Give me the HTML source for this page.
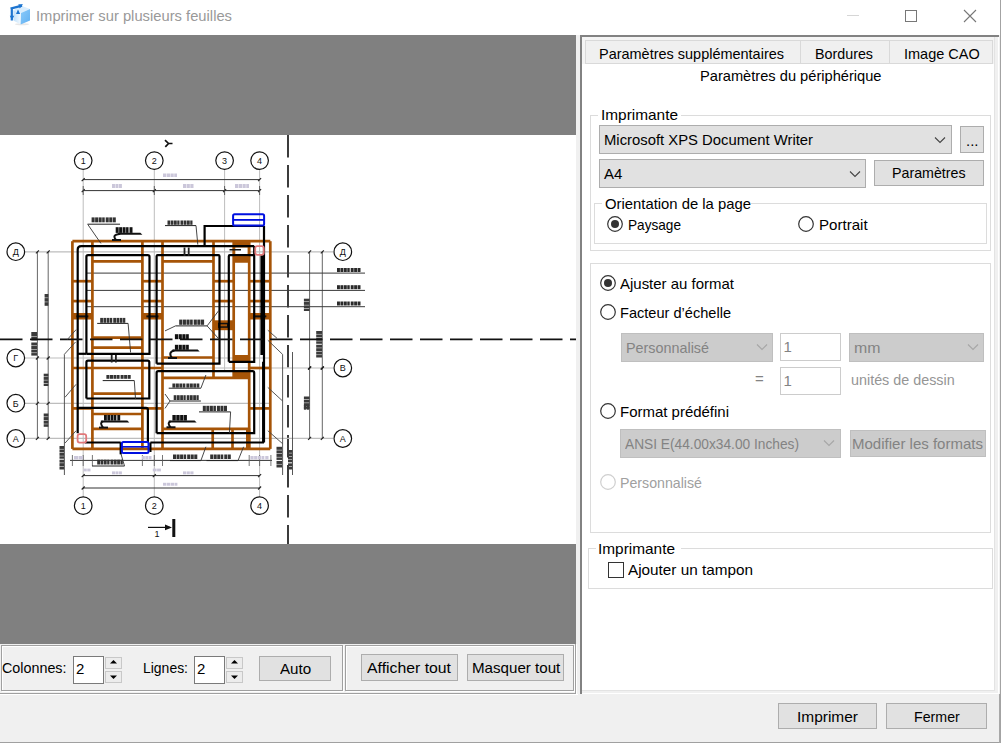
<!DOCTYPE html><html><head><meta charset="utf-8"><style>
html,body{margin:0;padding:0;}
body{width:1001px;height:743px;position:relative;overflow:hidden;background:#f0f0f0;font-family:"Liberation Sans",sans-serif;font-size:15px;}
.r{position:absolute;box-sizing:border-box;}
.t{position:absolute;white-space:pre;line-height:17px;font-size:15px;}
.fit{transform-origin:0 0;}
</style></head><body>
<div class="r" style="left:0px;top:0px;width:1001px;height:35px;background:#fff;"></div>
<div class="t fit" style="left:36px;top:7.3px;color:#999;transform:scaleX(0.9838);">Imprimer sur plusieurs feuilles</div>
<div class="r" style="left:847px;top:15px;width:12px;height:1px;background:#d6d6d6;"></div>
<div class="r" style="left:905px;top:10px;width:12px;height:12px;box-shadow:inset 0 0 0 1px #777;"></div>
<svg class="r" style="left:963px;top:9px" width="15" height="15"><path d="M1,1 L13,13 M13,1 L1,13" stroke="#777" stroke-width="1.1" fill="none"/></svg>
<svg class="r" style="left:0;top:0" width="36" height="30" viewBox="0 0 36 30">
<defs><linearGradient id="rf" x1="0" y1="0" x2="1" y2="1"><stop offset="0" stop-color="#8ccbfa"/><stop offset="1" stop-color="#5fb0f2"/></linearGradient>
<linearGradient id="lf" x1="0" y1="0" x2="1" y2="0"><stop offset="0" stop-color="#bfe0fb"/><stop offset="1" stop-color="#f4faff"/></linearGradient></defs>
<ellipse cx="22" cy="24.2" rx="7" ry="1" fill="#bbb" opacity="0.35"/>
<polygon points="13.4,10.2 20.7,5.6 30,9 21,13" fill="#d9edfd"/>
<polygon points="13.4,10.2 21,13 20.6,24.4 13.4,20.6" fill="url(#lf)"/>
<polygon points="21,13 30,9 30,20.4 20.6,24.4" fill="url(#rf)"/>
<path d="M10.5,8.6 L22,5.6 M11.8,8.6 L11.8,20.5" stroke="#1c74d0" stroke-width="2.2" fill="none"/>
<polygon points="18.3,4.2 23,4.2 19.8,8.6" fill="#1c74d0"/>
<polygon points="16,14 20.2,14 18,9.4" fill="#1c74d0"/>
<polygon points="9.8,15.8 14.2,15.8 12,20" fill="#1c74d0"/>
</svg>
<div class="r" style="left:0px;top:35px;width:576px;height:100px;background:#808080;"></div>
<div class="r" style="left:0px;top:135px;width:576px;height:409px;background:#fff;"></div>
<div class="r" style="left:0px;top:544px;width:576px;height:100px;background:#808080;"></div>
<svg class="r" style="left:0;top:135px" width="576" height="409" viewBox="0 135 576 409">
<line x1="288" y1="135" x2="288" y2="544" stroke="#1a1a1a" stroke-width="1.7" stroke-dasharray="22.5 7.5"/>
<line x1="83.2" y1="170" x2="83.2" y2="497" stroke="#bdbdbd" stroke-width="1"/>
<line x1="154.3" y1="170" x2="154.3" y2="497" stroke="#bdbdbd" stroke-width="1"/>
<line x1="224.6" y1="170" x2="224.6" y2="371" stroke="#bdbdbd" stroke-width="1"/>
<line x1="259.6" y1="170" x2="259.6" y2="497" stroke="#bdbdbd" stroke-width="1"/>
<line x1="25" y1="251.8" x2="333" y2="251.8" stroke="#bdbdbd" stroke-width="1.3"/>
<line x1="25" y1="358" x2="270" y2="358" stroke="#bdbdbd" stroke-width="1.1"/>
<line x1="72" y1="368" x2="333" y2="368" stroke="#bdbdbd" stroke-width="1.1"/>
<line x1="25" y1="403.4" x2="270" y2="403.4" stroke="#bdbdbd" stroke-width="1.1"/>
<line x1="25" y1="438.4" x2="333" y2="438.4" stroke="#bdbdbd" stroke-width="1.3"/>
<line x1="83" y1="179.6" x2="259.6" y2="179.6" stroke="#333" stroke-width="1"/>
<line x1="83" y1="190.6" x2="259.6" y2="190.6" stroke="#333" stroke-width="1"/>
<line x1="83" y1="475.6" x2="259.6" y2="475.6" stroke="#333" stroke-width="1"/>
<line x1="83" y1="488" x2="259.6" y2="488" stroke="#333" stroke-width="1"/>
<path d="M81.7,192.1 L84.7,189.1" fill="none" stroke="#222" stroke-width="1.2"/>
<line x1="83.2" y1="186" x2="83.2" y2="195" stroke="#444" stroke-width="0.8"/>
<path d="M152.8,192.1 L155.8,189.1" fill="none" stroke="#222" stroke-width="1.2"/>
<line x1="154.3" y1="186" x2="154.3" y2="195" stroke="#444" stroke-width="0.8"/>
<path d="M223.1,192.1 L226.1,189.1" fill="none" stroke="#222" stroke-width="1.2"/>
<line x1="224.6" y1="186" x2="224.6" y2="195" stroke="#444" stroke-width="0.8"/>
<path d="M258.1,192.1 L261.1,189.1" fill="none" stroke="#222" stroke-width="1.2"/>
<line x1="259.6" y1="186" x2="259.6" y2="195" stroke="#444" stroke-width="0.8"/>
<path d="M81.7,181.1 L84.7,178.1" fill="none" stroke="#222" stroke-width="1.2"/>
<path d="M81.7,477.1 L84.7,474.1" fill="none" stroke="#222" stroke-width="1.2"/>
<path d="M81.7,489.5 L84.7,486.5" fill="none" stroke="#222" stroke-width="1.2"/>
<path d="M258.1,181.1 L261.1,178.1" fill="none" stroke="#222" stroke-width="1.2"/>
<path d="M258.1,477.1 L261.1,474.1" fill="none" stroke="#222" stroke-width="1.2"/>
<path d="M258.1,489.5 L261.1,486.5" fill="none" stroke="#222" stroke-width="1.2"/>
<path d="M152.8,477.1 L155.8,474.1" fill="none" stroke="#222" stroke-width="1.2"/>
<line x1="70" y1="460.4" x2="272" y2="460.4" stroke="#333" stroke-width="1"/>
<line x1="72.4" y1="455" x2="72.4" y2="466" stroke="#555" stroke-width="0.8"/>
<line x1="83.2" y1="455" x2="83.2" y2="466" stroke="#555" stroke-width="0.8"/>
<line x1="92.4" y1="455" x2="92.4" y2="466" stroke="#555" stroke-width="0.8"/>
<line x1="142.4" y1="455" x2="142.4" y2="466" stroke="#555" stroke-width="0.8"/>
<line x1="154.3" y1="455" x2="154.3" y2="466" stroke="#555" stroke-width="0.8"/>
<line x1="162.5" y1="455" x2="162.5" y2="466" stroke="#555" stroke-width="0.8"/>
<line x1="249.2" y1="455" x2="249.2" y2="466" stroke="#555" stroke-width="0.8"/>
<line x1="259.6" y1="455" x2="259.6" y2="466" stroke="#555" stroke-width="0.8"/>
<line x1="270.9" y1="455" x2="270.9" y2="466" stroke="#555" stroke-width="0.8"/>
<line x1="37.4" y1="251.7" x2="37.4" y2="438.4" stroke="#666" stroke-width="1"/>
<path d="M35.9,253.3 L38.9,250.3" fill="none" stroke="#222" stroke-width="1.2"/>
<path d="M35.9,359.5 L38.9,356.5" fill="none" stroke="#222" stroke-width="1.2"/>
<path d="M35.9,404.9 L38.9,401.9" fill="none" stroke="#222" stroke-width="1.2"/>
<path d="M35.9,439.9 L38.9,436.9" fill="none" stroke="#222" stroke-width="1.2"/>
<line x1="48.2" y1="251.7" x2="48.2" y2="438.4" stroke="#666" stroke-width="1"/>
<path d="M46.7,253.3 L49.7,250.3" fill="none" stroke="#222" stroke-width="1.2"/>
<path d="M46.7,359.5 L49.7,356.5" fill="none" stroke="#222" stroke-width="1.2"/>
<path d="M46.7,404.9 L49.7,401.9" fill="none" stroke="#222" stroke-width="1.2"/>
<path d="M46.7,439.9 L49.7,436.9" fill="none" stroke="#222" stroke-width="1.2"/>
<line x1="309.6" y1="251.7" x2="309.6" y2="438.4" stroke="#666" stroke-width="1"/>
<path d="M308.1,253.3 L311.1,250.3" fill="none" stroke="#222" stroke-width="1.2"/>
<path d="M308.1,369.5 L311.1,366.5" fill="none" stroke="#222" stroke-width="1.2"/>
<path d="M308.1,369.5 L311.1,366.5" fill="none" stroke="#222" stroke-width="1.2"/>
<path d="M308.1,439.9 L311.1,436.9" fill="none" stroke="#222" stroke-width="1.2"/>
<line x1="322.3" y1="251.7" x2="322.3" y2="438.4" stroke="#666" stroke-width="1"/>
<path d="M320.8,253.3 L323.8,250.3" fill="none" stroke="#222" stroke-width="1.2"/>
<path d="M320.8,369.5 L323.8,366.5" fill="none" stroke="#222" stroke-width="1.2"/>
<path d="M320.8,369.5 L323.8,366.5" fill="none" stroke="#222" stroke-width="1.2"/>
<path d="M320.8,439.9 L323.8,436.9" fill="none" stroke="#222" stroke-width="1.2"/>
<rect x="163.0" y="173.5" width="3.25" height="3.50" fill="#cbc7da"/>
<rect x="166.75" y="173.5" width="3.25" height="3.50" fill="#cbc7da"/>
<rect x="170.5" y="173.5" width="3.25" height="3.50" fill="#cbc7da"/>
<rect x="174.25" y="173.5" width="2.75" height="3.50" fill="#cbc7da"/>
<rect x="112.0" y="184" width="2.97" height="4.00" fill="#cbc7da"/>
<rect x="115.46666666666667" y="184" width="2.97" height="4.00" fill="#cbc7da"/>
<rect x="118.93333333333334" y="184" width="2.97" height="4.00" fill="#cbc7da"/>
<rect x="183.0" y="184" width="3.17" height="4.00" fill="#cbc7da"/>
<rect x="186.66666666666666" y="184" width="3.17" height="4.00" fill="#cbc7da"/>
<rect x="190.33333333333334" y="184" width="3.17" height="4.00" fill="#cbc7da"/>
<rect x="235.0" y="184" width="3.25" height="4.00" fill="#cbc7da"/>
<rect x="238.75" y="184" width="3.25" height="4.00" fill="#cbc7da"/>
<rect x="242.5" y="184" width="3.25" height="4.00" fill="#cbc7da"/>
<rect x="246.25" y="184" width="2.75" height="4.00" fill="#cbc7da"/>
<rect x="112.0" y="471.4" width="2.97" height="2.90" fill="#cbc7da"/>
<rect x="115.46666666666667" y="471.4" width="2.97" height="2.90" fill="#cbc7da"/>
<rect x="118.93333333333334" y="471.4" width="2.97" height="2.90" fill="#cbc7da"/>
<rect x="183.0" y="471.4" width="3.17" height="2.90" fill="#cbc7da"/>
<rect x="186.66666666666666" y="471.4" width="3.17" height="2.90" fill="#cbc7da"/>
<rect x="190.33333333333334" y="471.4" width="3.17" height="2.90" fill="#cbc7da"/>
<rect x="163.0" y="482.8" width="3.35" height="2.90" fill="#cbc7da"/>
<rect x="166.85" y="482.8" width="3.35" height="2.90" fill="#cbc7da"/>
<rect x="170.7" y="482.8" width="3.35" height="2.90" fill="#cbc7da"/>
<rect x="174.55" y="482.8" width="2.85" height="2.90" fill="#cbc7da"/>
<rect x="83.5" y="468.6" width="3.25" height="2.80" fill="#cbc7da"/>
<rect x="87.25" y="468.6" width="3.25" height="2.80" fill="#cbc7da"/>
<rect x="152.8" y="468.6" width="3.80" height="2.80" fill="#cbc7da"/>
<rect x="157.10000000000002" y="468.6" width="3.80" height="2.80" fill="#cbc7da"/>
<rect x="74.0" y="456" width="4.25" height="3.50" fill="#cbc7da"/>
<rect x="78.75" y="456" width="4.25" height="3.50" fill="#cbc7da"/>
<rect x="250.4" y="456" width="3.22" height="3.50" fill="#cbc7da"/>
<rect x="254.12" y="456" width="3.22" height="3.50" fill="#cbc7da"/>
<rect x="257.84000000000003" y="456" width="3.22" height="3.50" fill="#cbc7da"/>
<rect x="261.56" y="456" width="2.72" height="3.50" fill="#cbc7da"/>
<rect x="265.28" y="456" width="3.22" height="3.50" fill="#cbc7da"/>
<rect x="142.0" y="456" width="2.83" height="3.50" fill="#cbc7da"/>
<rect x="145.33333333333334" y="456" width="2.83" height="3.50" fill="#cbc7da"/>
<rect x="148.66666666666666" y="456" width="2.83" height="3.50" fill="#cbc7da"/>
<rect x="44.6" y="294.0" width="3.80" height="3.60" fill="#3a3a3a"/>
<rect x="44.6" y="298.1" width="3.80" height="3.60" fill="#3a3a3a"/>
<rect x="44.6" y="302.2" width="3.80" height="3.60" fill="#3a3a3a"/>
<rect x="31.3" y="332.0" width="5.70" height="4.00" fill="#3a3a3a"/>
<rect x="31.3" y="336.5" width="5.70" height="4.00" fill="#3a3a3a"/>
<rect x="31.3" y="342.5" width="5.70" height="3.02" fill="#3a3a3a"/>
<rect x="31.3" y="346.025" width="5.70" height="3.03" fill="#3a3a3a"/>
<rect x="31.3" y="349.55" width="5.70" height="3.03" fill="#3a3a3a"/>
<rect x="31.3" y="353.07500000000005" width="5.70" height="2.52" fill="#3a3a3a"/>
<rect x="43.7" y="373.7" width="4.70" height="2.82" fill="#3a3a3a"/>
<rect x="43.7" y="377.025" width="4.70" height="2.83" fill="#3a3a3a"/>
<rect x="43.7" y="380.35" width="4.70" height="2.82" fill="#3a3a3a"/>
<rect x="43.7" y="383.675" width="4.70" height="2.32" fill="#3a3a3a"/>
<rect x="43.7" y="413.5" width="4.70" height="3.07" fill="#3a3a3a"/>
<rect x="43.7" y="417.075" width="4.70" height="3.07" fill="#3a3a3a"/>
<rect x="43.7" y="420.65" width="4.70" height="3.08" fill="#3a3a3a"/>
<rect x="43.7" y="424.225" width="4.70" height="2.57" fill="#3a3a3a"/>
<rect x="303.9" y="298.7" width="5.70" height="2.82" fill="#3a3a3a"/>
<rect x="303.9" y="302.025" width="5.70" height="2.83" fill="#3a3a3a"/>
<rect x="303.9" y="305.35" width="5.70" height="2.82" fill="#3a3a3a"/>
<rect x="303.9" y="308.675" width="5.70" height="2.32" fill="#3a3a3a"/>
<rect x="316.2" y="331.0" width="5.80" height="2.94" fill="#3a3a3a"/>
<rect x="316.2" y="334.4375" width="5.80" height="2.94" fill="#3a3a3a"/>
<rect x="316.2" y="337.875" width="5.80" height="2.94" fill="#3a3a3a"/>
<rect x="316.2" y="341.3125" width="5.80" height="2.44" fill="#3a3a3a"/>
<rect x="316.2" y="344.75" width="5.80" height="2.94" fill="#3a3a3a"/>
<rect x="316.2" y="348.1875" width="5.80" height="2.94" fill="#3a3a3a"/>
<rect x="316.2" y="351.625" width="5.80" height="2.94" fill="#3a3a3a"/>
<rect x="316.2" y="355.0625" width="5.80" height="2.44" fill="#3a3a3a"/>
<rect x="303.9" y="396.5" width="5.70" height="2.82" fill="#3a3a3a"/>
<rect x="303.9" y="399.825" width="5.70" height="2.82" fill="#3a3a3a"/>
<rect x="303.9" y="403.15" width="5.70" height="2.83" fill="#3a3a3a"/>
<rect x="303.9" y="406.475" width="5.70" height="2.32" fill="#3a3a3a"/>
<rect x="303.9" y="405" width="2.35" height="4.70" fill="#3a3a3a"/>
<rect x="306.75" y="405" width="2.35" height="4.70" fill="#3a3a3a"/>
<circle cx="83.2" cy="160.6" r="8.8" fill="#fff" stroke="#111" stroke-width="1.2"/>
<text x="83.2" y="163.9" font-size="9" text-anchor="middle" font-family="Liberation Sans" fill="#111">1</text>
<circle cx="154.3" cy="160.6" r="8.8" fill="#fff" stroke="#111" stroke-width="1.2"/>
<text x="154.3" y="163.9" font-size="9" text-anchor="middle" font-family="Liberation Sans" fill="#111">2</text>
<circle cx="224.6" cy="160.6" r="8.8" fill="#fff" stroke="#111" stroke-width="1.2"/>
<text x="224.6" y="163.9" font-size="9" text-anchor="middle" font-family="Liberation Sans" fill="#111">3</text>
<circle cx="259.6" cy="160.6" r="8.8" fill="#fff" stroke="#111" stroke-width="1.2"/>
<text x="259.6" y="163.9" font-size="9" text-anchor="middle" font-family="Liberation Sans" fill="#111">4</text>
<circle cx="83.2" cy="505.6" r="8.8" fill="#fff" stroke="#111" stroke-width="1.2"/>
<text x="83.2" y="508.90000000000003" font-size="9" text-anchor="middle" font-family="Liberation Sans" fill="#111">1</text>
<circle cx="154.3" cy="505.6" r="8.8" fill="#fff" stroke="#111" stroke-width="1.2"/>
<text x="154.3" y="508.90000000000003" font-size="9" text-anchor="middle" font-family="Liberation Sans" fill="#111">2</text>
<circle cx="259.6" cy="505.6" r="8.8" fill="#fff" stroke="#111" stroke-width="1.2"/>
<text x="259.6" y="508.90000000000003" font-size="9" text-anchor="middle" font-family="Liberation Sans" fill="#111">4</text>
<circle cx="15.8" cy="251.7" r="8.8" fill="#fff" stroke="#111" stroke-width="1.2"/>
<text x="15.8" y="255.0" font-size="9" text-anchor="middle" font-family="Liberation Sans" fill="#111">Д</text>
<circle cx="15.8" cy="358" r="8.8" fill="#fff" stroke="#111" stroke-width="1.2"/>
<text x="15.8" y="361.3" font-size="9" text-anchor="middle" font-family="Liberation Sans" fill="#111">Г</text>
<circle cx="15.8" cy="403.2" r="8.8" fill="#fff" stroke="#111" stroke-width="1.2"/>
<text x="15.8" y="406.5" font-size="9" text-anchor="middle" font-family="Liberation Sans" fill="#111">Б</text>
<circle cx="15.8" cy="438.5" r="8.8" fill="#fff" stroke="#111" stroke-width="1.2"/>
<text x="15.8" y="441.8" font-size="9" text-anchor="middle" font-family="Liberation Sans" fill="#111">А</text>
<circle cx="342.8" cy="251.7" r="8.8" fill="#fff" stroke="#111" stroke-width="1.2"/>
<text x="342.8" y="255.0" font-size="9" text-anchor="middle" font-family="Liberation Sans" fill="#111">Д</text>
<circle cx="342.8" cy="368" r="8.8" fill="#fff" stroke="#111" stroke-width="1.2"/>
<text x="342.8" y="371.3" font-size="9" text-anchor="middle" font-family="Liberation Sans" fill="#111">В</text>
<circle cx="342.8" cy="438.5" r="8.8" fill="#fff" stroke="#111" stroke-width="1.2"/>
<text x="342.8" y="441.8" font-size="9" text-anchor="middle" font-family="Liberation Sans" fill="#111">А</text>
<line x1="86.4" y1="273.1" x2="365" y2="273.1" stroke="#3a3a3a" stroke-width="1"/>
<line x1="86.4" y1="290.4" x2="365" y2="290.4" stroke="#3a3a3a" stroke-width="1"/>
<line x1="86.4" y1="306.7" x2="365" y2="306.7" stroke="#3a3a3a" stroke-width="1"/>
<rect x="337.0" y="268" width="2.93" height="4.00" fill="#2a2a2a"/>
<rect x="340.42857142857144" y="268" width="2.93" height="4.00" fill="#2a2a2a"/>
<rect x="343.85714285714283" y="268" width="2.93" height="4.00" fill="#2a2a2a"/>
<rect x="347.2857142857143" y="268" width="2.43" height="4.00" fill="#2a2a2a"/>
<rect x="350.7142857142857" y="268" width="2.93" height="4.00" fill="#2a2a2a"/>
<rect x="354.14285714285717" y="268" width="2.93" height="4.00" fill="#2a2a2a"/>
<rect x="357.57142857142856" y="268" width="2.93" height="4.00" fill="#2a2a2a"/>
<rect x="337.0" y="285.2" width="2.93" height="4.00" fill="#2a2a2a"/>
<rect x="340.42857142857144" y="285.2" width="2.93" height="4.00" fill="#2a2a2a"/>
<rect x="343.85714285714283" y="285.2" width="2.93" height="4.00" fill="#2a2a2a"/>
<rect x="347.2857142857143" y="285.2" width="2.43" height="4.00" fill="#2a2a2a"/>
<rect x="350.7142857142857" y="285.2" width="2.93" height="4.00" fill="#2a2a2a"/>
<rect x="354.14285714285717" y="285.2" width="2.93" height="4.00" fill="#2a2a2a"/>
<rect x="357.57142857142856" y="285.2" width="2.93" height="4.00" fill="#2a2a2a"/>
<rect x="337.0" y="301.5" width="2.93" height="4.00" fill="#2a2a2a"/>
<rect x="340.42857142857144" y="301.5" width="2.93" height="4.00" fill="#2a2a2a"/>
<rect x="343.85714285714283" y="301.5" width="2.93" height="4.00" fill="#2a2a2a"/>
<rect x="347.2857142857143" y="301.5" width="2.43" height="4.00" fill="#2a2a2a"/>
<rect x="350.7142857142857" y="301.5" width="2.93" height="4.00" fill="#2a2a2a"/>
<rect x="354.14285714285717" y="301.5" width="2.93" height="4.00" fill="#2a2a2a"/>
<rect x="357.57142857142856" y="301.5" width="2.93" height="4.00" fill="#2a2a2a"/>
<line x1="72.4" y1="241.2" x2="72.4" y2="448.9" stroke="#a65407" stroke-width="2.7"/>
<line x1="92.4" y1="241.2" x2="92.4" y2="448.9" stroke="#a65407" stroke-width="2.7"/>
<line x1="142.4" y1="241.2" x2="142.4" y2="448.9" stroke="#a65407" stroke-width="2.7"/>
<line x1="162.5" y1="241.2" x2="162.5" y2="448.9" stroke="#a65407" stroke-width="2.7"/>
<line x1="249.2" y1="241.2" x2="249.2" y2="448.9" stroke="#a65407" stroke-width="2.7"/>
<line x1="270.3" y1="241.2" x2="270.3" y2="448.9" stroke="#a65407" stroke-width="2.7"/>
<line x1="213.5" y1="241.2" x2="213.5" y2="378.5" stroke="#a65407" stroke-width="2.7"/>
<line x1="233.7" y1="241.2" x2="233.7" y2="378.5" stroke="#a65407" stroke-width="2.7"/>
<line x1="212.7" y1="428.9" x2="212.7" y2="448.9" stroke="#a65407" stroke-width="2.7"/>
<line x1="232.5" y1="428.9" x2="232.5" y2="448.9" stroke="#a65407" stroke-width="2.7"/>
<rect x="246" y="428.3" width="4.30" height="20.60" fill="#a65407"/>
<line x1="72.4" y1="241.2" x2="270.3" y2="241.2" stroke="#a65407" stroke-width="2.7"/>
<line x1="72.4" y1="448.9" x2="270.3" y2="448.9" stroke="#a65407" stroke-width="2.7"/>
<line x1="92.4" y1="261.3" x2="142.4" y2="261.3" stroke="#a65407" stroke-width="2.7"/>
<line x1="162.5" y1="261.3" x2="213.5" y2="261.3" stroke="#a65407" stroke-width="2.7"/>
<line x1="72.4" y1="281.2" x2="92.4" y2="281.2" stroke="#a65407" stroke-width="2.7"/>
<line x1="72.4" y1="301.1" x2="92.4" y2="301.1" stroke="#a65407" stroke-width="2.7"/>
<line x1="142.4" y1="281.2" x2="162.5" y2="281.2" stroke="#a65407" stroke-width="2.7"/>
<line x1="142.4" y1="301.1" x2="162.5" y2="301.1" stroke="#a65407" stroke-width="2.7"/>
<line x1="213.5" y1="281.2" x2="233.7" y2="281.2" stroke="#a65407" stroke-width="2.7"/>
<line x1="213.5" y1="301.1" x2="233.7" y2="301.1" stroke="#a65407" stroke-width="2.7"/>
<line x1="249.2" y1="281.2" x2="270.3" y2="281.2" stroke="#a65407" stroke-width="2.7"/>
<line x1="249.2" y1="301.1" x2="270.3" y2="301.1" stroke="#a65407" stroke-width="2.7"/>
<rect x="72.4" y="313" width="20.00" height="6.50" fill="#a65407"/>
<rect x="76.4" y="315.4" width="12.00" height="2.00" fill="#111"/>
<rect x="142.4" y="313" width="20.10" height="6.50" fill="#a65407"/>
<rect x="146.4" y="315.4" width="12.10" height="2.00" fill="#111"/>
<rect x="249.2" y="313" width="21.10" height="6.50" fill="#a65407"/>
<rect x="253.2" y="315.4" width="13.10" height="2.00" fill="#111"/>
<rect x="213.5" y="320.3" width="20.20" height="9.90" fill="#a65407"/>
<rect x="218" y="322.8" width="11.00" height="5.00" fill="#111"/>
<rect x="220" y="324.3" width="7.00" height="2.00" fill="#a65407"/>
<rect x="233.2" y="240.5" width="16.60" height="22.00" fill="#a65407"/>
<rect x="235.3" y="247.5" width="12.30" height="6.50" fill="#fff"/>
<rect x="229.5" y="249" width="11.50" height="1.50" fill="#111"/>
<line x1="92.4" y1="337.7" x2="142.4" y2="337.7" stroke="#a65407" stroke-width="2.7"/>
<line x1="92.4" y1="347.6" x2="142.4" y2="347.6" stroke="#a65407" stroke-width="2.7"/>
<line x1="162.5" y1="357.5" x2="213.5" y2="357.5" stroke="#a65407" stroke-width="2.7"/>
<line x1="72.4" y1="368" x2="162.5" y2="368" stroke="#a65407" stroke-width="2.7"/>
<line x1="249.2" y1="368" x2="270.3" y2="368" stroke="#a65407" stroke-width="2.7"/>
<line x1="162.5" y1="377.9" x2="249.2" y2="377.9" stroke="#a65407" stroke-width="2.7"/>
<rect x="234.3" y="355" width="13.70" height="8.00" fill="#a65407"/>
<rect x="234.3" y="371.7" width="13.70" height="6.80" fill="#a65407"/>
<line x1="92.4" y1="393.6" x2="142.4" y2="393.6" stroke="#a65407" stroke-width="2.7"/>
<line x1="72.4" y1="408.4" x2="92.4" y2="408.4" stroke="#a65407" stroke-width="2.7"/>
<line x1="142.4" y1="408.4" x2="162.5" y2="408.4" stroke="#a65407" stroke-width="2.7"/>
<line x1="249.2" y1="408.4" x2="270.3" y2="408.4" stroke="#a65407" stroke-width="2.7"/>
<line x1="92.4" y1="414" x2="142.4" y2="414" stroke="#a65407" stroke-width="2.7"/>
<line x1="92.4" y1="428.9" x2="142.4" y2="428.9" stroke="#a65407" stroke-width="2.7"/>
<line x1="162.5" y1="428.9" x2="248" y2="428.9" stroke="#a65407" stroke-width="2.7"/>
<path d="M77.7,433.2 L77.7,249.6 Q77.7,246.1 81.2,246.1 L254.2,246.1" fill="none" stroke="#000" stroke-width="2.2"/>
<line x1="84.8" y1="442.5" x2="120.7" y2="442.5" stroke="#000" stroke-width="2.2"/>
<line x1="120.7" y1="442.5" x2="120.7" y2="454.3" stroke="#000" stroke-width="2.2"/>
<line x1="150.4" y1="442.5" x2="264" y2="442.5" stroke="#000" stroke-width="2.2"/>
<line x1="150.4" y1="442.5" x2="150.4" y2="452" stroke="#000" stroke-width="2.2"/>
<line x1="264" y1="226" x2="264" y2="442.5" stroke="#000" stroke-width="2.2"/>
<rect x="260.4" y="255.2" width="4.40" height="99.80" fill="#000"/>
<path d="M204.6,245.2 L204.6,226 L264,226" fill="none" stroke="#000" stroke-width="2.2"/>
<path d="M86.4,353.8 L86.4,256.8 Q86.4,255.2 88.0,255.2 L147.9,255.2 Q149.5,255.2 149.5,256.8 L149.5,353.8 L86.4,353.8" fill="none" stroke="#000" stroke-width="2.2"/>
<line x1="77.7" y1="353.8" x2="86.4" y2="353.8" stroke="#000" stroke-width="2.2"/>
<path d="M156.6,363.7 L156.6,256.2 Q156.6,255.2 157.6,255.2 L218.5,255.2 Q219.5,255.2 219.5,256.2 L219.5,363.7 L156.6,363.7" fill="none" stroke="#000" stroke-width="2.2"/>
<path d="M228.8,361.8 L228.8,256.2 Q228.8,255.2 229.8,255.2 L254.2,255.2 M254.2,246 L254.2,361.8 L228.8,361.8" fill="none" stroke="#000" stroke-width="2.2"/>
<path d="M86.4,398.5 L86.4,362.20000000000005 Q86.4,360.6 88.0,360.6 L147.70000000000002,360.6 Q149.3,360.6 149.3,362.20000000000005 L149.3,398.5 L86.4,398.5" fill="none" stroke="#000" stroke-width="2.2"/>
<path d="M77.7,407.8 L146,407.8 Q147.9,407.8 147.9,409.7 L147.9,442.5" fill="none" stroke="#000" stroke-width="2.2"/>
<path d="M156.6,433.2 L156.6,372.70000000000005 Q156.6,371.1 158.2,371.1 L252.6,371.1 Q254.2,371.1 254.2,372.70000000000005 L254.2,433.2 L156.6,433.2" fill="none" stroke="#000" stroke-width="2.2"/>
<line x1="262.8" y1="361.8" x2="262.8" y2="442.5" stroke="#000" stroke-width="1.5"/>
<rect x="234.5" y="256.5" width="14.00" height="6.00" fill="#a65407"/>
<rect x="233.1" y="214.3" width="31.00" height="11.10" stroke="#0010e0" stroke-width="2" fill="none" rx="1.5"/>
<line x1="233.1" y1="219.9" x2="264.1" y2="219.9" stroke="#0010e0" stroke-width="1.8"/>
<rect x="121.9" y="441.9" width="26.60" height="11.10" stroke="#0010e0" stroke-width="2" fill="none" rx="1.5"/>
<line x1="121.9" y1="446.8" x2="148.5" y2="446.8" stroke="#0010e0" stroke-width="1.6"/>
<rect x="255.2" y="246.2" width="8.60" height="8.60" stroke="#e0787a" stroke-width="1.8" fill="none" rx="2"/>
<rect x="77.6" y="434.2" width="8.60" height="8.40" stroke="#e0787a" stroke-width="1.8" fill="none" rx="2"/>
<rect x="183.6" y="247.5" width="1.80" height="8.50" fill="#222"/>
<rect x="187.8" y="247.5" width="1.80" height="8.50" fill="#222"/>
<rect x="110.8" y="355" width="1.80" height="7.50" fill="#222"/>
<rect x="115" y="355" width="1.80" height="7.50" fill="#222"/>
<rect x="91.6" y="217.4" width="3.03" height="4.90" fill="#333"/>
<rect x="95.12857142857142" y="217.4" width="3.03" height="4.90" fill="#333"/>
<rect x="98.65714285714286" y="217.4" width="3.03" height="4.90" fill="#333"/>
<rect x="102.18571428571428" y="217.4" width="2.53" height="4.90" fill="#333"/>
<rect x="105.71428571428571" y="217.4" width="3.03" height="4.90" fill="#333"/>
<rect x="109.24285714285713" y="217.4" width="3.03" height="4.90" fill="#333"/>
<rect x="112.77142857142857" y="217.4" width="3.03" height="4.90" fill="#333"/>
<line x1="87.5" y1="224.2" x2="120" y2="224.2" stroke="#222" stroke-width="1"/>
<line x1="87.9" y1="224.6" x2="100.9" y2="243.4" stroke="#333" stroke-width="0.9"/>
<rect x="167.5" y="220.5" width="2.75" height="4.30" fill="#333"/>
<rect x="170.75" y="220.5" width="2.75" height="4.30" fill="#333"/>
<rect x="174.0" y="220.5" width="2.75" height="4.30" fill="#333"/>
<rect x="177.25" y="220.5" width="2.25" height="4.30" fill="#333"/>
<rect x="180.5" y="220.5" width="2.75" height="4.30" fill="#333"/>
<rect x="183.75" y="220.5" width="2.75" height="4.30" fill="#333"/>
<rect x="187.0" y="220.5" width="2.75" height="4.30" fill="#333"/>
<rect x="190.25" y="220.5" width="2.25" height="4.30" fill="#333"/>
<line x1="165" y1="225.6" x2="196" y2="225.6" stroke="#222" stroke-width="1"/>
<line x1="196" y1="225.6" x2="197.8" y2="244.6" stroke="#333" stroke-width="0.9"/>
<rect x="100.2" y="317.9" width="2.76" height="4.90" fill="#333"/>
<rect x="103.4625" y="317.9" width="2.76" height="4.90" fill="#333"/>
<rect x="106.725" y="317.9" width="2.76" height="4.90" fill="#333"/>
<rect x="109.9875" y="317.9" width="2.26" height="4.90" fill="#333"/>
<rect x="113.25" y="317.9" width="2.76" height="4.90" fill="#333"/>
<rect x="116.5125" y="317.9" width="2.76" height="4.90" fill="#333"/>
<rect x="119.775" y="317.9" width="2.76" height="4.90" fill="#333"/>
<rect x="123.0375" y="317.9" width="2.26" height="4.90" fill="#333"/>
<line x1="97.2" y1="323.4" x2="128.1" y2="323.4" stroke="#222" stroke-width="1"/>
<line x1="128.1" y1="323.4" x2="130.6" y2="352.5" stroke="#333" stroke-width="0.9"/>
<rect x="179.2" y="319.6" width="3.13" height="5.20" fill="#333"/>
<rect x="182.82857142857142" y="319.6" width="3.13" height="5.20" fill="#333"/>
<rect x="186.45714285714286" y="319.6" width="3.13" height="5.20" fill="#333"/>
<rect x="190.0857142857143" y="319.6" width="2.63" height="5.20" fill="#333"/>
<rect x="193.7142857142857" y="319.6" width="3.13" height="5.20" fill="#333"/>
<rect x="197.34285714285713" y="319.6" width="3.13" height="5.20" fill="#333"/>
<rect x="200.97142857142856" y="319.6" width="3.13" height="5.20" fill="#333"/>
<line x1="175.5" y1="325.9" x2="207.1" y2="325.9" stroke="#222" stroke-width="1"/>
<line x1="175.5" y1="325.9" x2="165" y2="330.9" stroke="#333" stroke-width="0.9"/>
<line x1="207.1" y1="325.9" x2="218.9" y2="310.4" stroke="#333" stroke-width="0.9"/>
<line x1="207.1" y1="325.9" x2="218.3" y2="338.3" stroke="#333" stroke-width="0.9"/>
<rect x="106.4" y="375" width="3.04" height="3.80" fill="#333"/>
<rect x="109.94285714285715" y="375" width="3.04" height="3.80" fill="#333"/>
<rect x="113.48571428571428" y="375" width="3.04" height="3.80" fill="#333"/>
<rect x="117.02857142857142" y="375" width="2.54" height="3.80" fill="#333"/>
<rect x="120.57142857142857" y="375" width="3.04" height="3.80" fill="#333"/>
<rect x="124.1142857142857" y="375" width="3.04" height="3.80" fill="#333"/>
<rect x="127.65714285714284" y="375" width="3.04" height="3.80" fill="#333"/>
<line x1="102.7" y1="380.6" x2="134.3" y2="380.6" stroke="#222" stroke-width="1"/>
<line x1="134.3" y1="380.6" x2="135.5" y2="399.1" stroke="#333" stroke-width="0.9"/>
<rect x="172.4" y="383.5" width="2.99" height="4.10" fill="#333"/>
<rect x="175.88750000000002" y="383.5" width="2.99" height="4.10" fill="#333"/>
<rect x="179.375" y="383.5" width="2.99" height="4.10" fill="#333"/>
<rect x="182.8625" y="383.5" width="2.49" height="4.10" fill="#333"/>
<rect x="186.35000000000002" y="383.5" width="2.99" height="4.10" fill="#333"/>
<rect x="189.8375" y="383.5" width="2.99" height="4.10" fill="#333"/>
<rect x="193.32500000000002" y="383.5" width="2.99" height="4.10" fill="#333"/>
<rect x="196.8125" y="383.5" width="2.49" height="4.10" fill="#333"/>
<line x1="168.7" y1="388.2" x2="200.9" y2="388.2" stroke="#222" stroke-width="1"/>
<line x1="200.9" y1="388.2" x2="205.9" y2="375" stroke="#333" stroke-width="0.9"/>
<rect x="173.7" y="395.2" width="2.75" height="4.80" fill="#333"/>
<rect x="176.95" y="395.2" width="2.75" height="4.80" fill="#333"/>
<rect x="180.2" y="395.2" width="2.75" height="4.80" fill="#333"/>
<rect x="183.45" y="395.2" width="2.25" height="4.80" fill="#333"/>
<rect x="186.7" y="395.2" width="2.75" height="4.80" fill="#333"/>
<rect x="189.95" y="395.2" width="2.75" height="4.80" fill="#333"/>
<rect x="193.2" y="395.2" width="2.75" height="4.80" fill="#333"/>
<rect x="196.45" y="395.2" width="2.25" height="4.80" fill="#333"/>
<line x1="170" y1="401" x2="200.9" y2="401" stroke="#222" stroke-width="1"/>
<line x1="170" y1="401" x2="165" y2="394" stroke="#333" stroke-width="0.9"/>
<line x1="170" y1="401" x2="165" y2="408.4" stroke="#333" stroke-width="0.9"/>
<rect x="202.8" y="405.8" width="3.03" height="5.20" fill="#333"/>
<rect x="206.32857142857145" y="405.8" width="3.03" height="5.20" fill="#333"/>
<rect x="209.85714285714286" y="405.8" width="3.03" height="5.20" fill="#333"/>
<rect x="213.3857142857143" y="405.8" width="2.53" height="5.20" fill="#333"/>
<rect x="216.9142857142857" y="405.8" width="3.03" height="5.20" fill="#333"/>
<rect x="220.44285714285715" y="405.8" width="3.03" height="5.20" fill="#333"/>
<rect x="223.9714285714286" y="405.8" width="3.03" height="5.20" fill="#333"/>
<line x1="199" y1="411.9" x2="230.6" y2="411.9" stroke="#222" stroke-width="1"/>
<line x1="230.6" y1="411.9" x2="229.4" y2="433.2" stroke="#333" stroke-width="0.9"/>
<rect x="97.2" y="459.6" width="2.83" height="4.90" fill="#333"/>
<rect x="100.525" y="459.6" width="2.82" height="4.90" fill="#333"/>
<rect x="103.85" y="459.6" width="2.83" height="4.90" fill="#333"/>
<rect x="107.175" y="459.6" width="2.33" height="4.90" fill="#333"/>
<rect x="110.5" y="459.6" width="2.83" height="4.90" fill="#333"/>
<rect x="113.825" y="459.6" width="2.83" height="4.90" fill="#333"/>
<rect x="117.15" y="459.6" width="2.82" height="4.90" fill="#333"/>
<rect x="120.475" y="459.6" width="2.33" height="4.90" fill="#333"/>
<line x1="92" y1="466" x2="124.5" y2="466" stroke="#222" stroke-width="1"/>
<line x1="124.5" y1="466" x2="121" y2="454" stroke="#333" stroke-width="0.9"/>
<rect x="173.0" y="454.5" width="3.04" height="4.50" fill="#333"/>
<rect x="176.54285714285714" y="454.5" width="3.04" height="4.50" fill="#333"/>
<rect x="180.0857142857143" y="454.5" width="3.04" height="4.50" fill="#333"/>
<rect x="183.62857142857143" y="454.5" width="2.54" height="4.50" fill="#333"/>
<rect x="187.17142857142858" y="454.5" width="3.04" height="4.50" fill="#333"/>
<rect x="190.71428571428572" y="454.5" width="3.04" height="4.50" fill="#333"/>
<rect x="194.25714285714287" y="454.5" width="3.04" height="4.50" fill="#333"/>
<line x1="170" y1="460.6" x2="200.9" y2="460.6" stroke="#222" stroke-width="1"/>
<line x1="200.9" y1="460.6" x2="205.9" y2="446.8" stroke="#333" stroke-width="0.9"/>
<rect x="210.2" y="454.5" width="3.02" height="4.50" fill="#333"/>
<rect x="213.71666666666667" y="454.5" width="3.02" height="4.50" fill="#333"/>
<rect x="217.23333333333332" y="454.5" width="3.02" height="4.50" fill="#333"/>
<rect x="220.75" y="454.5" width="2.52" height="4.50" fill="#333"/>
<rect x="224.26666666666668" y="454.5" width="3.02" height="4.50" fill="#333"/>
<rect x="227.78333333333333" y="454.5" width="3.02" height="4.50" fill="#333"/>
<line x1="206.5" y1="460.6" x2="238" y2="460.6" stroke="#222" stroke-width="1"/>
<line x1="238" y1="460.6" x2="243.6" y2="446.8" stroke="#333" stroke-width="0.9"/>
<rect x="115.7" y="227.2" width="2.96" height="5.70" fill="#111"/>
<rect x="119.16" y="227.2" width="2.96" height="5.70" fill="#111"/>
<rect x="122.62" y="227.2" width="2.96" height="5.70" fill="#111"/>
<rect x="126.08" y="227.2" width="2.46" height="5.70" fill="#111"/>
<rect x="129.54" y="227.2" width="2.96" height="5.70" fill="#111"/>
<polygon points="118.2,232.7 140.4,232.7 142.4,234.7 118.2,234.7" fill="#111"/>
<path d="M120.2,233.7 C114,234.7 113,236 116,240" fill="none" stroke="#111" stroke-width="2"/>
<rect x="112" y="239" width="9.00" height="2.00" fill="#111"/>
<rect x="174.9" y="334.2" width="3.22" height="5.00" fill="#111"/>
<rect x="178.625" y="334.2" width="3.23" height="5.00" fill="#111"/>
<rect x="182.35000000000002" y="334.2" width="3.22" height="5.00" fill="#111"/>
<rect x="186.07500000000002" y="334.2" width="2.72" height="5.00" fill="#111"/>
<rect x="174.9" y="344.8" width="3.22" height="5.00" fill="#111"/>
<rect x="178.625" y="344.8" width="3.23" height="5.00" fill="#111"/>
<rect x="182.35000000000002" y="344.8" width="3.22" height="5.00" fill="#111"/>
<rect x="186.07500000000002" y="344.8" width="2.72" height="5.00" fill="#111"/>
<polygon points="172.4,349.4 197.7,349.4 199.7,351.4 172.4,351.4" fill="#111"/>
<path d="M174.4,350.4 C170,351.4 169,354 172,358" fill="none" stroke="#111" stroke-width="2"/>
<rect x="168" y="357" width="9.00" height="2.00" fill="#111"/>
<rect x="104.0" y="415" width="2.84" height="5.60" fill="#111"/>
<rect x="107.34" y="415" width="2.84" height="5.60" fill="#111"/>
<rect x="110.68" y="415" width="2.84" height="5.60" fill="#111"/>
<rect x="114.02000000000001" y="415" width="2.34" height="5.60" fill="#111"/>
<rect x="117.36" y="415" width="2.84" height="5.60" fill="#111"/>
<polygon points="100.9,420.4 127.30000000000001,420.4 129.3,422.4 100.9,422.4" fill="#111"/>
<path d="M102.9,421.4 C101,422.4 100,423.6 103,427.6" fill="none" stroke="#111" stroke-width="2"/>
<rect x="99" y="426.6" width="9.00" height="2.00" fill="#111"/>
<rect x="172.4" y="415" width="3.38" height="5.60" fill="#111"/>
<rect x="176.275" y="415" width="3.38" height="5.60" fill="#111"/>
<rect x="180.15" y="415" width="3.38" height="5.60" fill="#111"/>
<rect x="184.025" y="415" width="2.88" height="5.60" fill="#111"/>
<polygon points="168.7,420.4 194.6,420.4 196.6,422.4 168.7,422.4" fill="#111"/>
<path d="M170.7,421.4 C168.5,422.4 167.5,423.3 170.5,427.3" fill="none" stroke="#111" stroke-width="2"/>
<rect x="166.5" y="426.3" width="9.00" height="2.00" fill="#111"/>
<line x1="0" y1="339.4" x2="576" y2="339.4" stroke="#111" stroke-width="1.7" stroke-dasharray="22.5 7.5"/>
<line x1="76.1" y1="329.6" x2="67.4" y2="339.5" stroke="#444" stroke-width="0.9"/>
<line x1="75.5" y1="342" x2="64.3" y2="354.4" stroke="#444" stroke-width="0.9"/>
<line x1="76.1" y1="384.3" x2="65" y2="397.3" stroke="#444" stroke-width="0.9"/>
<line x1="76.1" y1="430.7" x2="65" y2="443.1" stroke="#444" stroke-width="0.9"/>
<line x1="267.8" y1="330.2" x2="277" y2="338.3" stroke="#444" stroke-width="0.9"/>
<line x1="267.8" y1="340.2" x2="282.6" y2="354.4" stroke="#444" stroke-width="0.9"/>
<line x1="267.8" y1="387.4" x2="282.6" y2="401" stroke="#444" stroke-width="0.9"/>
<line x1="267.8" y1="430.7" x2="282.6" y2="443.7" stroke="#444" stroke-width="0.9"/>
<line x1="64.4" y1="354.4" x2="64.4" y2="475" stroke="#444" stroke-width="0.9"/>
<line x1="282.6" y1="354.4" x2="282.6" y2="475" stroke="#444" stroke-width="0.9"/>
<line x1="292.5" y1="352" x2="292.5" y2="475" stroke="#444" stroke-width="0.9"/>
<rect x="59.5" y="446.0" width="4.50" height="2.93" fill="#3a3a3a"/>
<rect x="59.5" y="449.42857142857144" width="4.50" height="2.93" fill="#3a3a3a"/>
<rect x="59.5" y="452.85714285714283" width="4.50" height="2.93" fill="#3a3a3a"/>
<rect x="59.5" y="456.2857142857143" width="4.50" height="2.43" fill="#3a3a3a"/>
<rect x="59.5" y="459.7142857142857" width="4.50" height="2.93" fill="#3a3a3a"/>
<rect x="59.5" y="463.14285714285717" width="4.50" height="2.93" fill="#3a3a3a"/>
<rect x="59.5" y="466.57142857142856" width="4.50" height="2.93" fill="#3a3a3a"/>
<rect x="276.5" y="446.8" width="5.50" height="3.03" fill="#3a3a3a"/>
<rect x="276.5" y="450.33333333333337" width="5.50" height="3.03" fill="#3a3a3a"/>
<rect x="276.5" y="453.8666666666667" width="5.50" height="3.03" fill="#3a3a3a"/>
<rect x="276.5" y="457.4" width="5.50" height="2.53" fill="#3a3a3a"/>
<rect x="276.5" y="460.93333333333334" width="5.50" height="3.03" fill="#3a3a3a"/>
<rect x="276.5" y="464.4666666666667" width="5.50" height="3.03" fill="#3a3a3a"/>
<rect x="288" y="450.0" width="4.20" height="2.83" fill="#3a3a3a"/>
<rect x="288" y="453.3333333333333" width="4.20" height="2.83" fill="#3a3a3a"/>
<rect x="288" y="456.6666666666667" width="4.20" height="2.83" fill="#3a3a3a"/>
<rect x="288" y="460.0" width="4.20" height="2.33" fill="#3a3a3a"/>
<rect x="288" y="463.3333333333333" width="4.20" height="2.83" fill="#3a3a3a"/>
<rect x="288" y="466.6666666666667" width="4.20" height="2.83" fill="#3a3a3a"/>
<path d="M165,140.2 L168.5,143.5 L165.3,146.8 M168.5,143.5 L172.5,143.5" fill="none" stroke="#111" stroke-width="1.7"/>
<line x1="148" y1="527.4" x2="170" y2="527.4" stroke="#111" stroke-width="1.2"/>
<rect x="172.3" y="519" width="3.00" height="18.00" fill="#111"/>
<polygon points="165,524.6 172,527.4 165,530.2" fill="#111"/>
<text x="154.5" y="537" font-size="9" font-family="Liberation Sans" fill="#111">1</text>
</svg>
<div class="r" style="left:2px;top:646px;width:342px;height:46px;box-shadow:inset 0 0 0 1px #fff;"></div>
<div class="r" style="left:1px;top:645px;width:342px;height:46px;box-shadow:inset 0 0 0 1px #a0a0a0;"></div>
<div class="r" style="left:346px;top:646px;width:229px;height:46px;box-shadow:inset 0 0 0 1px #fff;"></div>
<div class="r" style="left:345px;top:645px;width:229px;height:46px;box-shadow:inset 0 0 0 1px #a0a0a0;"></div>
<div class="r" style="left:0px;top:693px;width:577px;height:1px;background:#a0a0a0;"></div>
<div class="r" style="left:0px;top:694px;width:578px;height:1px;background:#fff;"></div>
<div class="r" style="left:575px;top:644px;width:1px;height:50px;background:#a0a0a0;"></div>
<div class="r" style="left:576px;top:644px;width:1px;height:51px;background:#fff;"></div>
<div class="t fit" style="left:2px;top:659.3px;color:#000;transform:scaleX(0.9549);">Colonnes:</div>
<div class="r" style="left:73px;top:656px;width:31px;height:28px;background:#fff;box-shadow:inset 0 0 0 1px #7a7a7a;"></div>
<div class="t" style="left:76px;top:660.3px;color:#000;">2</div>
<div class="r" style="left:105px;top:657px;width:17px;height:12px;background:#ececec;box-shadow:inset 0 0 0 1px #c8c8c8;"></div>
<div class="r" style="left:105px;top:671px;width:17px;height:12px;background:#ececec;box-shadow:inset 0 0 0 1px #c8c8c8;"></div>
<svg class="r" style="left:105px;top:657px" width="18" height="26"><polygon points="5,6.5 12,6.5 8.5,3" fill="#000"/><polygon points="5,18.5 12,18.5 8.5,22" fill="#000"/></svg>
<div class="t fit" style="left:143.2px;top:659.3px;color:#000;transform:scaleX(0.9302);">Lignes:</div>
<div class="r" style="left:194px;top:656px;width:31px;height:28px;background:#fff;box-shadow:inset 0 0 0 1px #7a7a7a;"></div>
<div class="t" style="left:197px;top:660.3px;color:#000;">2</div>
<div class="r" style="left:226px;top:657px;width:17px;height:12px;background:#ececec;box-shadow:inset 0 0 0 1px #c8c8c8;"></div>
<div class="r" style="left:226px;top:671px;width:17px;height:12px;background:#ececec;box-shadow:inset 0 0 0 1px #c8c8c8;"></div>
<svg class="r" style="left:226px;top:657px" width="18" height="26"><polygon points="5,6.5 12,6.5 8.5,3" fill="#000"/><polygon points="5,18.5 12,18.5 8.5,22" fill="#000"/></svg>
<div class="r" style="left:259px;top:656px;width:72px;height:25px;background:#e1e1e1;box-shadow:inset 0 0 0 1px #adadad;"></div>
<div class="t fit" style="left:279.5px;top:660.3px;color:#000;transform:scaleX(1.0110);">Auto</div>
<div class="r" style="left:361px;top:654px;width:97px;height:27px;background:#e1e1e1;box-shadow:inset 0 0 0 1px #adadad;"></div>
<div class="t fit" style="left:367.4px;top:659.3px;color:#000;transform:scaleX(1.0529);">Afficher tout</div>
<div class="r" style="left:467px;top:654px;width:97px;height:27px;background:#e1e1e1;box-shadow:inset 0 0 0 1px #adadad;"></div>
<div class="t fit" style="left:471.7px;top:659.3px;color:#000;transform:scaleX(1.0086);">Masquer tout</div>
<div class="r" style="left:580px;top:35px;width:419px;height:659px;background:#f0f0f0;box-shadow:inset 2px 2px 0 0 #828282, inset -1px -1px 0 0 #fff;"></div>
<div class="r" style="left:582px;top:37px;width:413px;height:654px;background:#fff;box-shadow:inset -1px -1px 0 0 #e3e3e3;"></div>
<div class="r" style="left:582px;top:37px;width:412px;height:27px;background:#f4f4f4;"></div>
<div class="r" style="left:585px;top:40px;width:216px;height:24px;background:#f0f0f0;box-shadow:inset 0 0 0 1px #d9d9d9;"></div>
<div class="r" style="left:800px;top:40px;width:90px;height:24px;background:#f0f0f0;box-shadow:inset 0 0 0 1px #d9d9d9;"></div>
<div class="r" style="left:889px;top:40px;width:104px;height:24px;background:#f0f0f0;box-shadow:inset 0 0 0 1px #d9d9d9;"></div>
<div class="t fit" style="left:599.3px;top:44.8px;color:#000;transform:scaleX(0.9647);">Paramètres supplémentaires</div>
<div class="t fit" style="left:815.4px;top:44.8px;color:#000;transform:scaleX(0.9528);">Bordures</div>
<div class="t fit" style="left:903.8px;top:44.8px;color:#000;transform:scaleX(0.9671);">Image CAO</div>
<div class="t fit" style="left:699.8px;top:67.3px;color:#000;transform:scaleX(0.9761);">Paramètres du périphérique</div>
<div class="r" style="left:590px;top:115px;width:401px;height:136px;box-shadow:inset 0 0 0 1px #dcdcdc;"></div>
<div class="r" style="left:598px;top:105px;width:83px;height:16px;background:#fff;"></div>
<div class="t fit" style="left:600.5px;top:105.8px;color:#000;transform:scaleX(1.0262);">Imprimante</div>
<div class="r" style="left:599px;top:125px;width:353px;height:29px;background:#e1e1e1;box-shadow:inset 0 0 0 1px #adadad;"></div>
<div class="t fit" style="left:604.4px;top:131.1px;color:#000;transform:scaleX(0.9884);">Microsoft XPS Document Writer</div>
<svg class="r" style="left:934px;top:136px" width="12" height="8"><polyline points="1,1.5 6,6.5 11,1.5" fill="none" stroke="#444" stroke-width="1.1"/></svg>
<div class="r" style="left:960px;top:126px;width:24px;height:27px;background:#e1e1e1;box-shadow:inset 0 0 0 1px #adadad;"></div>
<div class="t" style="left:966px;top:132.3px;color:#000;">...</div>
<div class="r" style="left:599px;top:159px;width:267px;height:29px;background:#e1e1e1;box-shadow:inset 0 0 0 1px #adadad;"></div>
<div class="t" style="left:604px;top:164.8px;color:#000;">A4</div>
<svg class="r" style="left:849px;top:170px" width="12" height="8"><polyline points="1,1.5 6,6.5 11,1.5" fill="none" stroke="#444" stroke-width="1.1"/></svg>
<div class="r" style="left:874px;top:160px;width:110px;height:26px;background:#e1e1e1;box-shadow:inset 0 0 0 1px #adadad;"></div>
<div class="t fit" style="left:891.7px;top:164.3px;color:#000;transform:scaleX(0.9493);">Paramètres</div>
<div class="r" style="left:594px;top:203px;width:393px;height:41px;box-shadow:inset 0 0 0 1px #dcdcdc;"></div>
<div class="r" style="left:602px;top:196px;width:149px;height:15px;background:#fff;"></div>
<div class="t fit" style="left:604.5px;top:195.0px;color:#000;transform:scaleX(0.9891);">Orientation de la page</div>
<svg class="r" style="left:607px;top:216px" width="17" height="17"><circle cx="8" cy="8" r="7.3" fill="#fff" stroke="#333" stroke-width="1.2"/><circle cx="8" cy="8" r="4" fill="#333"/></svg>
<div class="t fit" style="left:628.2px;top:216.1px;color:#000;transform:scaleX(0.9079);">Paysage</div>
<svg class="r" style="left:798px;top:216px" width="17" height="17"><circle cx="8" cy="8" r="7.3" fill="#fff" stroke="#333" stroke-width="1.2"/></svg>
<div class="t fit" style="left:819px;top:216.1px;color:#000;transform:scaleX(1.0050);">Portrait</div>
<div class="r" style="left:590px;top:263px;width:401px;height:269.5px;box-shadow:inset 0 0 0 1px #dcdcdc;"></div>
<svg class="r" style="left:600px;top:275px" width="17" height="17"><circle cx="8" cy="8" r="7.3" fill="#fff" stroke="#333" stroke-width="1.2"/><circle cx="8" cy="8" r="4" fill="#333"/></svg>
<div class="t fit" style="left:620.4px;top:274.6px;color:#000;transform:scaleX(0.9981);">Ajuster au format</div>
<svg class="r" style="left:600px;top:304px" width="17" height="17"><circle cx="8" cy="8" r="7.3" fill="#fff" stroke="#333" stroke-width="1.2"/></svg>
<div class="t fit" style="left:620.4px;top:303.9px;color:#000;transform:scaleX(0.9717);">Facteur d’échelle</div>
<div class="r" style="left:621px;top:333px;width:152px;height:29px;background:#cccccc;box-shadow:inset 0 0 0 1px #bfbfbf;"></div>
<div class="t fit" style="left:626.2px;top:339.3px;color:#838383;transform:scaleX(0.9571);">Personnalisé</div>
<svg class="r" style="left:756px;top:343px" width="12" height="8"><polyline points="1,1.5 6,6.5 11,1.5" fill="none" stroke="#a6a6a6" stroke-width="1.1"/></svg>
<div class="r" style="left:780px;top:333px;width:61px;height:28px;background:#fff;box-shadow:inset 0 0 0 1px #cccccc;"></div>
<div class="t" style="left:783.5px;top:338.0px;color:#838383;">1</div>
<div class="r" style="left:849px;top:333px;width:135px;height:29px;background:#cccccc;box-shadow:inset 0 0 0 1px #bfbfbf;"></div>
<div class="t fit" style="left:853.9px;top:339.3px;color:#838383;transform:scaleX(1.0600);">mm</div>
<svg class="r" style="left:967px;top:343px" width="12" height="8"><polyline points="1,1.5 6,6.5 11,1.5" fill="none" stroke="#a6a6a6" stroke-width="1.1"/></svg>
<div class="t" style="left:755px;top:369.8px;color:#838383;">=</div>
<div class="r" style="left:780px;top:367px;width:61px;height:28px;background:#fff;box-shadow:inset 0 0 0 1px #cccccc;"></div>
<div class="t" style="left:783.5px;top:372.0px;color:#838383;">1</div>
<div class="t fit" style="left:850.8px;top:371.3px;color:#959595;transform:scaleX(0.9566);">unités de dessin</div>
<svg class="r" style="left:600px;top:403px" width="17" height="17"><circle cx="8" cy="8" r="7.3" fill="#fff" stroke="#333" stroke-width="1.2"/></svg>
<div class="t fit" style="left:620.3px;top:403.1px;color:#000;transform:scaleX(0.9980);">Format prédéfini</div>
<div class="r" style="left:620px;top:429px;width:221px;height:29px;background:#cccccc;box-shadow:inset 0 0 0 1px #bfbfbf;"></div>
<div class="t fit" style="left:625.4px;top:435.3px;color:#838383;transform:scaleX(0.9153);">ANSI E(44.00x34.00 Inches)</div>
<svg class="r" style="left:823px;top:439px" width="12" height="8"><polyline points="1,1.5 6,6.5 11,1.5" fill="none" stroke="#a6a6a6" stroke-width="1.1"/></svg>
<div class="r" style="left:850px;top:430px;width:136px;height:27px;background:#cccccc;box-shadow:inset 0 0 0 1px #bfbfbf;"></div>
<div class="t fit" style="left:852.2px;top:435.3px;color:#838383;transform:scaleX(1.0010);">Modifier les formats</div>
<svg class="r" style="left:600px;top:474px" width="17" height="17"><circle cx="8" cy="8" r="7.3" fill="#fff" stroke="#cfcfcf" stroke-width="1.2"/></svg>
<div class="t fit" style="left:620px;top:473.8px;color:#a0a0a0;transform:scaleX(0.9456);">Personnalisé</div>
<div class="r" style="left:588px;top:548px;width:405px;height:41px;box-shadow:inset 0 0 0 1px #dcdcdc;"></div>
<div class="r" style="left:596px;top:540px;width:85px;height:17px;background:#fff;"></div>
<div class="t fit" style="left:597.7px;top:540.1px;color:#000;transform:scaleX(1.0262);">Imprimante</div>
<div class="r" style="left:608px;top:562px;width:16px;height:16px;background:#fff;box-shadow:inset 0 0 0 1px #333;"></div>
<div class="t fit" style="left:628.2px;top:561.3px;color:#000;transform:scaleX(1.0198);">Ajouter un tampon</div>
<div class="r" style="left:778px;top:703px;width:99px;height:26px;background:#e1e1e1;box-shadow:inset 0 0 0 1px #adadad;"></div>
<div class="t fit" style="left:796.6px;top:708.0px;color:#000;transform:scaleX(1.0309);">Imprimer</div>
<div class="r" style="left:886px;top:703px;width:101px;height:26px;background:#e1e1e1;box-shadow:inset 0 0 0 1px #adadad;"></div>
<div class="t fit" style="left:914.2px;top:708.0px;color:#000;transform:scaleX(0.9474);">Fermer</div>
<div class="r" style="left:0px;top:742px;width:1001px;height:1px;background:#a0a0a0;"></div>
<div class="r" style="left:999px;top:694px;width:1px;height:49px;background:#a8a8a8;"></div>
<div class="r" style="left:1000px;top:0px;width:1px;height:743px;background:#a3a3a3;"></div>
</body></html>
